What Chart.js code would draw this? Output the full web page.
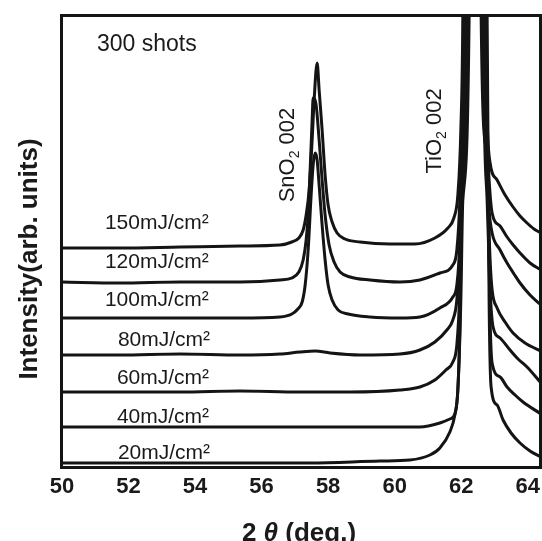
<!DOCTYPE html>
<html>
<head>
<meta charset="utf-8">
<script src="https://cdn.jsdelivr.net/npm/chart.js@4/dist/chart.umd.min.js"></script>
<style>
html, body { margin: 0; padding: 0; background: #fff; }
#caixa { width: 542px; height: 541px; }
</style>
</head>
<body>
<div id="caixa"><canvas id="graficoXRD"></canvas></div>
<script>
// fluencias do laser (mJ/cm2), de cima para baixo
const fluencias = ["150", "120", "100", "80", "60", "40", "20"];

const rotulosX = [50, 52, 54, 56, 58, 60, 62, 64];

// 2theta (graus), intensidade (u.a., com deslocamento vertical de cada curva)
const serie150 = [[50,218],[51.74,218],[53.55,219],[55.35,220],[56.55,221],[56.91,224],[57.12,228],[57.25,236],[57.34,251],[57.43,276],[57.52,326],[57.58,366],[57.67,403],[57.73,376],[57.82,336],[57.91,291],[58.00,261],[58.12,244],[58.27,233],[58.51,227],[58.96,224],[59.86,222],[60.61,222],[61.21,228],[61.60,238],[61.78,248],[61.90,271],[61.99,336],[62.05,452],[62.42,3000],[62.72,452],[62.78,346],[62.87,303],[63.08,286],[63.32,271],[63.56,259],[63.77,250],[63.98,243],[64.19,237],[64.40,233]];

const serie120 = [[50,184],[51.74,183],[53.55,184],[55.35,184],[56.55,186],[56.91,188],[57.12,194],[57.25,206],[57.34,226],[57.40,251],[57.46,296],[57.52,346],[57.55,368],[57.64,361],[57.73,326],[57.82,286],[57.91,251],[58.03,221],[58.18,204],[58.36,194],[58.66,189],[59.26,186],[60.16,184],[60.76,186],[61.36,193],[61.75,201],[61.87,216],[61.96,266],[62.02,346],[62.11,452],[62.42,3000],[62.66,452],[62.75,346],[62.84,286],[62.93,253],[63.17,240],[63.38,229],[63.59,220],[63.77,213],[64.07,203],[64.40,196]];

const serie100 = [[50,148],[51.74,148],[53.55,148],[55.35,148],[56.55,149],[56.91,152],[57.09,157],[57.22,164],[57.31,181],[57.40,216],[57.49,271],[57.55,301],[57.61,313],[57.67,306],[57.73,281],[57.82,241],[57.91,206],[58.00,181],[58.12,166],[58.30,156],[58.60,152],[59.26,149],[60.16,148],[60.76,149],[61.36,158],[61.75,169],[61.87,181],[61.96,226],[62.02,316],[62.14,452],[62.42,3000],[62.63,452],[62.75,316],[62.84,256],[62.93,233],[63.17,216],[63.38,203],[63.59,192],[63.77,183],[64.07,171],[64.40,161]];

const serie80 = [[50,111],[51.74,111],[53.55,112],[55.35,111],[56.55,112],[57.15,114],[57.61,115],[58.06,113],[58.96,111],[60.16,112],[60.76,116],[61.21,124],[61.57,136],[61.75,146],[61.87,166],[61.96,216],[62.05,316],[62.21,452],[62.42,3000],[62.60,452],[62.75,316],[62.87,206],[62.93,176],[63.08,158],[63.32,144],[63.56,133],[63.92,123],[64.40,115]];

const serie60 = [[50,74],[51.74,74],[53.55,74],[55.35,75],[57.15,74],[58.66,74],[60.16,76],[60.76,79],[61.21,86],[61.54,96],[61.75,104],[61.87,121],[61.96,176],[62.02,266],[62.11,452],[62.42,3000],[62.66,452],[62.78,266],[62.87,176],[62.96,139],[63.17,128],[63.47,116],[63.71,107],[63.98,99],[64.40,83]];

const serie40 = [[50,39],[52.65,39],[55.65,39],[58.66,39],[60.76,39],[61.36,43],[61.66,47],[61.81,52],[61.90,76],[61.96,136],[62.02,266],[62.17,452],[62.42,3000],[62.72,452],[62.81,266],[62.87,146],[62.93,103],[63.17,89],[63.38,79],[63.62,71],[63.86,64],[64.40,52]];

const serie20 = [[50,3],[52.65,3],[55.65,3],[57.46,3],[59.56,5],[60.46,6],[61.06,11],[61.36,18],[61.66,34],[61.81,51],[61.90,76],[61.99,166],[62.05,266],[62.24,452],[62.42,3000],[62.78,452],[62.84,166],[62.90,79],[63.08,61],[63.26,46],[63.50,33],[63.77,23],[64.07,15],[64.40,9]];

const series = [serie150, serie120, serie100, serie80, serie60, serie40, serie20];

function criarDatasets() {
    return series.map((serie, i) => ({
        label: fluencias[i] + "mJ/cm²",
        data: serie.map(p => ({ x: p[0], y: p[1] })),
        borderColor: "#141414",
        borderWidth: 3,
        pointRadius: 0,
        cubicInterpolationMode: "monotone",
        fill: false
    }));
}

const fonte = "'Liberation Sans', Arial, sans-serif";

const textos = {
    id: "textos",
    afterDraw(chart) {
        const { ctx, chartArea: a, scales: { x, y } } = chart;
        ctx.save();

        // moldura
        ctx.strokeStyle = "#141414";
        ctx.lineWidth = 3;
        ctx.strokeRect(a.left - 0.5, a.top + 1.5, a.right - a.left, a.bottom - a.top);

        ctx.fillStyle = "#1a1a1a";
        ctx.textBaseline = "middle";

        // rotulos das curvas
        const posRotulos = [[51.29, 243], [51.29, 204], [51.29, 166], [51.68, 126], [51.65, 88], [51.65, 49], [51.68, 13]];
        ctx.font = "21px " + fonte;
        ctx.textAlign = "left";
        fluencias.forEach((f, i) => {
            ctx.fillText(f + "mJ/cm²", x.getPixelForValue(posRotulos[i][0]), y.getPixelForValue(posRotulos[i][1]));
        });

        ctx.font = "23px " + fonte;
        ctx.fillText("300 shots", x.getPixelForValue(51.05), y.getPixelForValue(421));

        // picos (texto vertical com indice)
        function pico(base, resto, cx, cy) {
            ctx.save();
            ctx.translate(x.getPixelForValue(cx), y.getPixelForValue(cy));
            ctx.rotate(-Math.PI / 2);
            ctx.font = "22px " + fonte;
            const w1 = ctx.measureText(base).width;
            const w3 = ctx.measureText(" " + resto).width;
            ctx.font = "14px " + fonte;
            const w2 = ctx.measureText("2").width;
            let px = -(w1 + w2 + w3) / 2;
            ctx.textAlign = "left";
            ctx.font = "22px " + fonte;
            ctx.fillText(base, px, 0);
            ctx.font = "14px " + fonte;
            ctx.fillText("2", px + w1, 7);
            ctx.font = "22px " + fonte;
            ctx.fillText(" " + resto, px + w1 + w2, 0);
            ctx.restore();
        }
        pico("SnO", "002", 56.79, 311);
        pico("TiO", "002", 61.21, 335);

        // titulo do eixo y
        ctx.save();
        ctx.translate(30, 259);
        ctx.rotate(-Math.PI / 2);
        ctx.textAlign = "center";
        ctx.font = "bold 26px " + fonte;
        ctx.fillText("Intensity(arb. units)", 0, 0);
        ctx.restore();

        // titulo do eixo x
        ctx.textBaseline = "alphabetic";
        ctx.textAlign = "left";
        const partes = [["2 ", "bold 26px " + fonte], ["θ", "italic bold 26px " + fonte], [" (deg.)", "bold 26px " + fonte]];
        let total = 0;
        partes.forEach(p => { ctx.font = p[1]; total += ctx.measureText(p[0]).width; });
        let tx = 299 - total / 2;
        partes.forEach(p => {
            ctx.font = p[1];
            ctx.fillText(p[0], tx, 541);
            tx += ctx.measureText(p[0]).width;
        });

        ctx.restore();
    }
};

new Chart(document.getElementById("graficoXRD"), {
    type: "line",
    data: { datasets: criarDatasets() },
    options: {
        responsive: true,
        maintainAspectRatio: false,
        animation: false,
        layout: { padding: { left: 62, right: 1, top: 14, bottom: 0 } },
        plugins: {
            legend: { display: false },
            tooltip: { enabled: false }
        },
        scales: {
            x: {
                type: "linear",
                min: 50,
                max: 64.4,
                afterBuildTicks: s => { s.ticks = rotulosX.map(v => ({ value: v })); },
                afterFit: s => { s.height = 75; s.paddingLeft = 0; s.paddingRight = 0; },
                grid: { display: false, drawTicks: false },
                border: { display: false },
                ticks: {
                    padding: 8,
                    color: "#1a1a1a",
                    font: { family: fonte, size: 22, weight: "bold" },
                    maxRotation: 0
                }
            },
            y: {
                display: false,
                min: 0,
                max: 452
            }
        }
    },
    plugins: [textos]
});
</script>
</body>
</html>
